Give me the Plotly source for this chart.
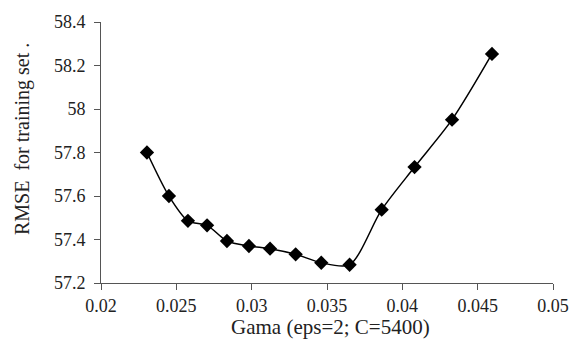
import plotly.graph_objects as go

gama = [0.02305, 0.02451, 0.02577, 0.02704, 0.02836, 0.02982, 0.03122,
        0.03292, 0.03462, 0.03650, 0.03863, 0.04081, 0.04330, 0.04595]
rmse = [57.800, 57.600, 57.486, 57.465, 57.393, 57.370, 57.358,
        57.332, 57.293, 57.284, 57.537, 57.733, 57.951, 58.253]

x_ticks = [0.02, 0.025, 0.03, 0.035, 0.04, 0.045, 0.05]
x_labels = ["0.02", "0.025", "0.03", "0.035", "0.04", "0.045", "0.05"]
y_ticks = [57.2, 57.4, 57.6, 57.8, 58.0, 58.2, 58.4]
y_labels = ["57.2", "57.4", "57.6", "57.8", "58", "58.2", "58.4"]

x_title = "Gama (eps=2; C=5400)"
y_title = "RMSE  for training set ."

font_family = "Liberation Serif"

fig = go.Figure()
fig.add_trace(go.Scatter(
    x=gama, y=rmse, mode="lines+markers",
    line=dict(color="black", width=1.5, shape="spline", smoothing=0.8),
    marker=dict(symbol="diamond", size=11, color="black"),
    showlegend=False,
))

axis_common = dict(
    showgrid=False, zeroline=False, showline=True, linecolor="#555555", linewidth=1,
    ticks="outside", ticklen=6, tickcolor="#555555", automargin=False,
    tickfont=dict(family=font_family, size=18, color="#222222"),
)

fig.update_layout(
    width=573, height=348,
    margin=dict(l=101, r=20, t=22, b=65),
    paper_bgcolor="white", plot_bgcolor="white",
    font=dict(family=font_family, color="#222222"),
    xaxis=dict(range=[0.02, 0.05], tickvals=x_ticks, ticktext=x_labels, **axis_common),
    yaxis=dict(range=[57.2, 58.4], tickvals=y_ticks, ticktext=y_labels,
               ticklabelstandoff=5, **axis_common),
    annotations=[
        dict(text=x_title, xref="paper", yref="paper", x=(330 - 101) / 452, y=-(327 - 283) / 261,
             xanchor="center", yanchor="middle", showarrow=False,
             font=dict(family=font_family, size=21, color="#222222")),
        dict(text=y_title, xref="paper", yref="paper", x=-(101 - 22) / 452, y=(283 - 139) / 261,
             xanchor="center", yanchor="middle", textangle=-90, showarrow=False,
             font=dict(family=font_family, size=20, color="#222222")),
    ],
)

fig.write_html("out.html", config={"displayModeBar": False},
               post_script="document.body.style.margin='0';document.body.style.overflow='hidden';")
